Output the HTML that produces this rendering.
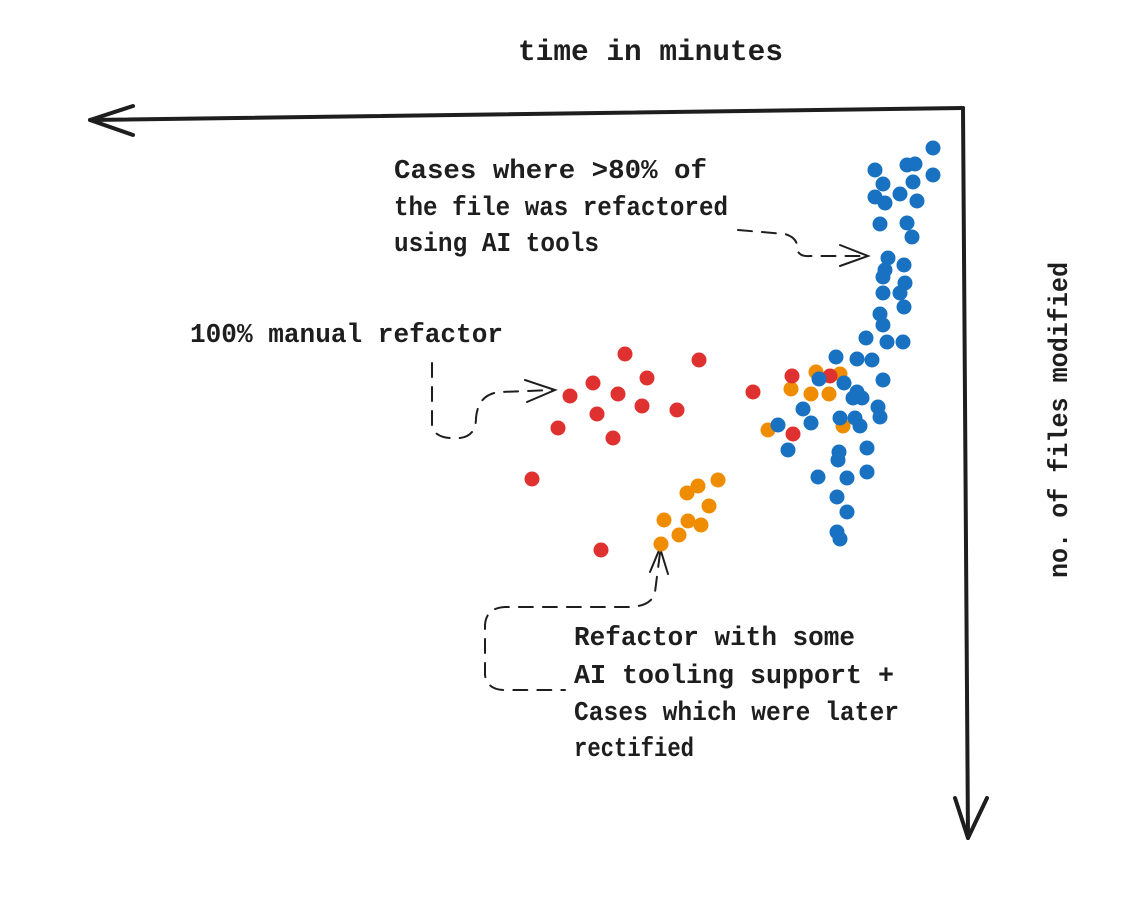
<!DOCTYPE html>
<html><head><meta charset="utf-8"><style>html,body{margin:0;padding:0;background:#fff}svg{display:block}</style></head>
<body>
<svg width="1148" height="902" viewBox="0 0 1148 902" xmlns="http://www.w3.org/2000/svg" font-family="'Liberation Mono', monospace" fill="#1e1e1e" font-weight="bold">
<rect width="1148" height="902" fill="#fff"/>
<g stroke="#1e1e1e" stroke-width="4" fill="none" stroke-linecap="round" stroke-linejoin="round">
<path d="M963 108 L90 120"/>
<path d="M133 106 L90 120 L133 135"/>
<path d="M963 108 L968 838"/>
<path d="M955 798 L968 838 L987 798"/>
</g>
<g stroke="#1e1e1e" stroke-width="2" fill="none" stroke-linecap="round" stroke-dasharray="14 10">
<path d="M738 230 L785 234 Q798 238 797 248 Q798 257 810 256 L866 256"/>
<path d="M432 363 L432 425 Q434 440 460 438 Q476 436 476 418 Q478 394 500 392 L553 390"/>
<path d="M660 553 L655 592 Q652 606 630 607 L505 607 Q486 608 485 625 L485 675 Q487 690 505 690 L565 690"/>
</g>
<g stroke="#1e1e1e" stroke-width="2" fill="none" stroke-linecap="round">
<path d="M840 245 L868 256 L840 266"/>
<path d="M525 380 L555 390 L527 402"/>
<path d="M650 572 L660 548 L668 574"/>
</g>
<text x="518" y="60" font-size="30" textLength="265" lengthAdjust="spacingAndGlyphs">time in minutes</text>
<text x="394" y="178" font-size="27" textLength="313" lengthAdjust="spacingAndGlyphs">Cases where &gt;80% of</text>
<text x="394" y="215" font-size="27" textLength="334" lengthAdjust="spacingAndGlyphs">the file was refactored</text>
<text x="394" y="251" font-size="27" textLength="205" lengthAdjust="spacingAndGlyphs">using AI tools</text>
<text x="190" y="342" font-size="27" textLength="313" lengthAdjust="spacingAndGlyphs">100% manual refactor</text>
<text x="574" y="645" font-size="27" textLength="281" lengthAdjust="spacingAndGlyphs">Refactor with some</text>
<text x="574" y="683" font-size="27" textLength="320" lengthAdjust="spacingAndGlyphs">AI tooling support +</text>
<text x="574" y="720" font-size="27" textLength="325" lengthAdjust="spacingAndGlyphs">Cases which were later</text>
<text x="574" y="756" font-size="27" textLength="120" lengthAdjust="spacingAndGlyphs">rectified</text>
<text transform="translate(1067 578) rotate(-90)" font-size="27" textLength="316" lengthAdjust="spacingAndGlyphs">no. of files modified</text>
<g fill="#e03131">
<circle cx="625" cy="354" r="7.5"/><circle cx="699" cy="360" r="7.5"/><circle cx="593" cy="383" r="7.5"/><circle cx="647" cy="378" r="7.5"/><circle cx="570" cy="396" r="7.5"/><circle cx="618" cy="394" r="7.5"/><circle cx="597" cy="414" r="7.5"/><circle cx="642" cy="406" r="7.5"/><circle cx="677" cy="410" r="7.5"/><circle cx="558" cy="428" r="7.5"/><circle cx="613" cy="438" r="7.5"/><circle cx="532" cy="479" r="7.5"/><circle cx="601" cy="550" r="7.5"/>
<circle cx="753" cy="392" r="7.5"/>
</g>
<g fill="#f08c00">
<circle cx="718" cy="480" r="7.5"/><circle cx="698" cy="486" r="7.5"/><circle cx="687" cy="493" r="7.5"/><circle cx="709" cy="506" r="7.5"/><circle cx="664" cy="520" r="7.5"/><circle cx="688" cy="521" r="7.5"/><circle cx="701" cy="525" r="7.5"/><circle cx="679" cy="535" r="7.5"/><circle cx="661" cy="544" r="7.5"/>
</g>
<g fill="#1971c2">
<circle cx="933" cy="148" r="7.5"/><circle cx="875" cy="170" r="7.5"/><circle cx="907" cy="165" r="7.5"/><circle cx="915" cy="164" r="7.5"/><circle cx="933" cy="175" r="7.5"/><circle cx="883" cy="184" r="7.5"/><circle cx="913" cy="182" r="7.5"/><circle cx="875" cy="197" r="7.5"/><circle cx="885" cy="203" r="7.5"/><circle cx="900" cy="194" r="7.5"/><circle cx="917" cy="201" r="7.5"/><circle cx="880" cy="224" r="7.5"/><circle cx="907" cy="223" r="7.5"/><circle cx="912" cy="237" r="7.5"/><circle cx="888" cy="258" r="7.5"/><circle cx="885" cy="270" r="7.5"/><circle cx="883" cy="277" r="7.5"/><circle cx="904" cy="265" r="7.5"/><circle cx="905" cy="283" r="7.5"/><circle cx="900" cy="293" r="7.5"/><circle cx="883" cy="293" r="7.5"/><circle cx="904" cy="307" r="7.5"/><circle cx="880" cy="314" r="7.5"/><circle cx="883" cy="325" r="7.5"/><circle cx="866" cy="338" r="7.5"/><circle cx="887" cy="342" r="7.5"/><circle cx="903" cy="342" r="7.5"/>
</g>
<g fill="#f08c00">
<circle cx="816" cy="372" r="7.5"/><circle cx="840" cy="374" r="7.5"/><circle cx="791" cy="389" r="7.5"/><circle cx="811" cy="394" r="7.5"/><circle cx="829" cy="394" r="7.5"/><circle cx="768" cy="430" r="7.5"/><circle cx="843" cy="426" r="7.5"/>
</g>
<g fill="#e03131">
<circle cx="792" cy="376" r="7.5"/><circle cx="830" cy="376" r="7.5"/><circle cx="793" cy="434" r="7.5"/>
</g>
<g fill="#1971c2">
<circle cx="857" cy="359" r="7.5"/><circle cx="872" cy="360" r="7.5"/><circle cx="836" cy="357" r="7.5"/><circle cx="883" cy="380" r="7.5"/><circle cx="819" cy="379" r="7.5"/><circle cx="844" cy="383" r="7.5"/><circle cx="857" cy="392" r="7.5"/><circle cx="853" cy="398" r="7.5"/><circle cx="862" cy="398" r="7.5"/><circle cx="878" cy="407" r="7.5"/><circle cx="880" cy="417" r="7.5"/><circle cx="803" cy="409" r="7.5"/><circle cx="811" cy="423" r="7.5"/><circle cx="840" cy="418" r="7.5"/><circle cx="855" cy="418" r="7.5"/><circle cx="860" cy="426" r="7.5"/><circle cx="778" cy="425" r="7.5"/><circle cx="788" cy="450" r="7.5"/><circle cx="839" cy="452" r="7.5"/><circle cx="838" cy="460" r="7.5"/><circle cx="867" cy="448" r="7.5"/><circle cx="867" cy="472" r="7.5"/><circle cx="818" cy="477" r="7.5"/><circle cx="847" cy="478" r="7.5"/><circle cx="837" cy="497" r="7.5"/><circle cx="847" cy="512" r="7.5"/><circle cx="837" cy="532" r="7.5"/><circle cx="840" cy="539" r="7.5"/>
</g>
</svg>
</body></html>
